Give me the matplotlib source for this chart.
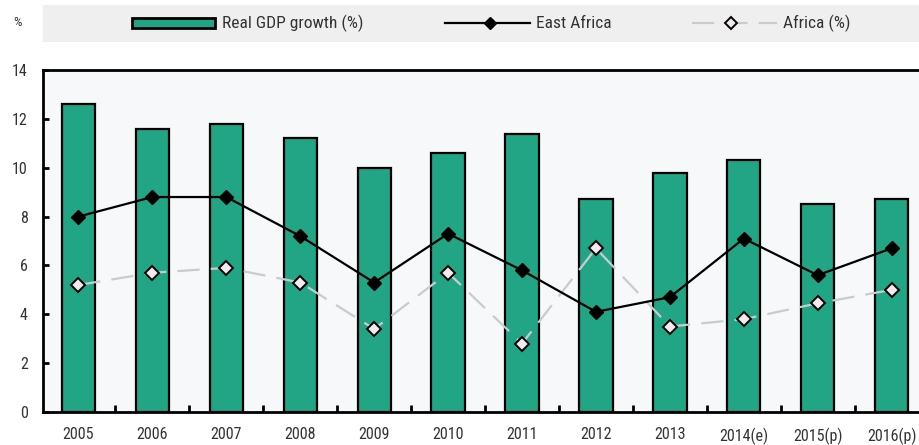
import matplotlib
matplotlib.use("Agg")
import matplotlib.pyplot as plt
import numpy as np
from matplotlib.patches import Rectangle

plt.rcParams["font.family"] = ["Roboto Condensed", "Archivo Narrow", "DejaVu Sans"]

years = ["2005", "2006", "2007", "2008", "2009", "2010", "2011",
         "2012", "2013", "2014(e)", "2015(p)", "2016(p)"]
gdp_growth = [12.6, 11.6, 11.8, 11.2, 10.0, 10.6, 11.4, 8.7, 9.8, 10.3, 8.5, 8.7]
east_africa = [8.0, 8.8, 8.8, 7.2, 5.3, 7.3, 5.8, 4.1, 4.7, 7.1, 5.6, 6.7]
africa = [5.2, 5.7, 5.9, 5.3, 3.4, 5.7, 2.8, 6.7, 3.5, 3.8, 4.45, 5.0]

BAR_COLOR = "#22a585"
AFRICA_LINE = "#c9cccc"
AFRICA_FACE = "#f3e9ee"
TEXT_COLOR = "#333333"

W, H = 919, 445
fig = plt.figure(figsize=(W / 100, H / 100), dpi=100)
ax = fig.add_axes([43 / W, 1 - 412 / H, 1 - 43 / W, (412 - 70) / H])
ax.set_facecolor("#f6f8f9")

x = np.arange(len(years))
ax.bar(x, gdp_growth, width=0.45, color=BAR_COLOR, edgecolor="black",
       linewidth=1.6, zorder=2)
ax.plot(x, east_africa, color="black", linewidth=1.6, marker="D",
        markersize=7, markerfacecolor="black", zorder=4)
ax.plot(x, africa, color=AFRICA_LINE, linewidth=1.6, dashes=(10, 5),
        marker="D", markersize=7, markerfacecolor=AFRICA_FACE,
        markeredgecolor="black", markeredgewidth=1.4, zorder=3)

ax.set_ylim(0, 14)
ax.set_yticks(np.arange(0, 15, 2))
ax.set_xlim(-0.48, 11.37)
ax.set_xticks(x)
ax.set_xticklabels(years)
ax.set_xticks(x[:-1] + 0.5, minor=True)
ax.tick_params(axis="x", which="major", length=0, pad=11, labelsize=11.5,
               labelcolor=TEXT_COLOR)
ax.tick_params(axis="x", which="minor", direction="in", length=5, width=2)
ax.tick_params(axis="y", direction="in", length=4, width=2, labelsize=11.5,
               pad=11, labelcolor=TEXT_COLOR)
for side in ["top", "left", "bottom"]:
    ax.spines[side].set_linewidth(2)
ax.spines["right"].set_visible(False)

# legend band drawn in pixel coordinates of the figure
leg = fig.add_axes([0, 1 - 42 / H, 1, 37 / H])
leg.set_xlim(0, W)
leg.set_ylim(42, 5)
leg.axis("off")
leg.add_patch(Rectangle((43, 5), W - 43, 37, color="#efefef", zorder=0))
yc = 23
leg.add_patch(Rectangle((132, yc - 5), 83, 10, facecolor=BAR_COLOR,
                        edgecolor="black", linewidth=2))
leg.text(222, yc, "Real GDP growth (%)", va="center", fontsize=12.5, color=TEXT_COLOR)
leg.plot([445, 530], [yc, yc], color="black", linewidth=1.6)
leg.plot([490], [yc], marker="D", markersize=6, color="black")
leg.text(536, yc, "East Africa", va="center", fontsize=12.5, color=TEXT_COLOR)
leg.plot([692, 777], [yc, yc], color=AFRICA_LINE, linewidth=1.6, dashes=(10, 5))
leg.plot([731], [yc], marker="D", markersize=6, markerfacecolor=AFRICA_FACE,
         markeredgecolor="black", markeredgewidth=1.4)
leg.text(783, yc, "Africa (%)", va="center", fontsize=12.5, color=TEXT_COLOR)

fig.text(18 / W, 1 - 22 / H, "%", va="center", ha="center", fontsize=9.5,
         color=TEXT_COLOR)

fig.savefig("out.png", dpi=100)
